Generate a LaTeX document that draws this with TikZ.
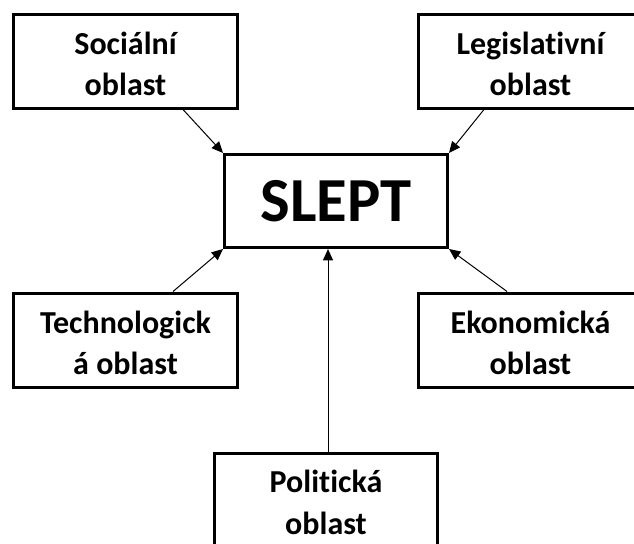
\documentclass[tikz,border=0pt]{standalone}
\usepackage{fontspec}
\setmainfont{Carlito}[Ligatures=NoCommon]
\usetikzlibrary{arrows.meta,calc}
\begin{document}
\begin{tikzpicture}[x=0.75pt,y=-0.75pt,
  box/.style={draw,line width=2.25pt,rectangle,inner sep=0pt,
    minimum width=168pt,minimum height=70.5pt},
  lbl/.style={align=center,inner sep=0pt,
    font=\fontsize{24pt}{31pt}\selectfont\bfseries},
  arr/.style={line width=0.75pt,-{Triangle[length=8.5pt,width=7.5pt]}}]
  \useasboundingbox (0,0) rectangle (634,543);
  \fill[white] (0,0) rectangle (634,543);
  \clip (0,0) rectangle (634,543);

  % central box
  \node[box,minimum width=167.25pt,minimum height=69.75pt,
    font=\fontsize{47pt}{52pt}\selectfont\bfseries] (slept) at (336,201) {SLEPT};

  % surrounding areas
  \node[box] (soc)  at (125.5,61)  {};
  \node[box] (leg)  at (530.5,61)  {};
  \node[box] (tech) at (125.5,340) {};
  \node[box] (eko)  at (530.5,340) {};
  \node[box,minimum width=167.25pt] (pol) at (326,500.5) {};

  \node[lbl] at ($(soc.center)+(0,3)$)  {Sociální\\oblast};
  \node[lbl] at ($(leg.center)+(0,3)$)  {Legislativní\\oblast};
  \node[lbl] at ($(tech.center)+(0,3)$) {Technologick\\á oblast};
  \node[lbl] at ($(eko.center)+(0,3)$)  {Ekonomická\\oblast};
  \node[lbl] at ($(pol.center)+(0,2)$)  {Politická\\oblast};

  % connectors into the corners of the central box
  \draw[arr] ($(soc.south)+(57.5,0)$)   -- (slept.north west);
  \draw[arr] ($(leg.south)+(-46.5,0)$)  -- (slept.north east);
  \draw[arr] ($(tech.north)+(47.5,0)$)  -- (slept.south west);
  \draw[arr] ($(eko.north)+(-23.5,0)$)  -- (slept.south east);
  \coordinate (polout) at ($(pol.north)+(2,0)$);
  \draw[arr] (polout) -- (polout |- slept.south);
\end{tikzpicture}
\end{document}
